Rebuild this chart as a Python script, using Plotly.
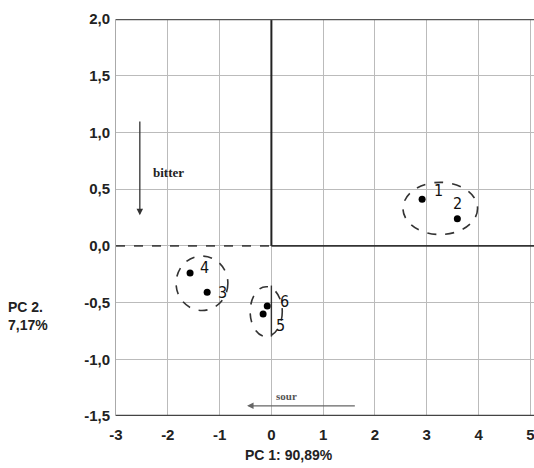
import plotly.graph_objects as go

# PCA scores of six samples
sample_ids = ["1", "2", "3", "4", "5", "6"]
pc1_scores = [2.91, 3.59, -1.24, -1.57, -0.16, -0.08]
pc2_scores = [0.41, 0.24, -0.41, -0.24, -0.60, -0.53]

# label positions (data units) next to each point
label_x = [3.22, 3.59, -0.95, -1.30, 0.17, 0.25]
label_y = [0.49, 0.37, -0.41, -0.19, -0.70, -0.49]

# dashed group ellipses: centre x, centre y, half width, half height
groups = [
    (3.26, 0.33, 0.72, 0.23),
    (-1.34, -0.33, 0.50, 0.24),
    (-0.10, -0.58, 0.31, 0.22),
]

x_ticks = [-3, -2, -1, 0, 1, 2, 3, 4, 5]
x_tick_labels = ["-3", "-2", "-1", "0", "1", "2", "3", "4", "5"]
y_ticks = [2.0, 1.5, 1.0, 0.5, 0.0, -0.5, -1.0, -1.5]
y_tick_labels = ["2,0", "1,5", "1,0", "0,5", "0,0", "-0,5", "-1,0", "-1,5"]

fig = go.Figure()

fig.add_trace(go.Scatter(
    x=pc1_scores, y=pc2_scores, mode="markers",
    marker=dict(color="black", size=7), showlegend=False, hoverinfo="skip"))

shapes = []
for cx, cy, rx, ry in groups:
    shapes.append(dict(type="circle", xref="x", yref="y",
                       x0=cx - rx, x1=cx + rx, y0=cy - ry, y1=cy + ry,
                       line=dict(color="#333", width=1.6, dash="dash")))

# origin lines: dashed left half, solid right half, vertical above zero
shapes.append(dict(type="line", xref="x", yref="y", x0=-3, x1=0, y0=0, y1=0,
                   line=dict(color="#444", width=1.6, dash="dash")))
shapes.append(dict(type="line", xref="x", yref="y", x0=0, x1=5.1, y0=0, y1=0,
                   line=dict(color="#333", width=1.6)))
shapes.append(dict(type="line", xref="x", yref="y", x0=0, x1=0, y0=0, y1=2,
                   line=dict(color="#222", width=2)))
shapes.append(dict(type="line", xref="x", yref="y", x0=0, x1=0, y0=-0.35, y1=-0.8,
                   line=dict(color="#333", width=1.4)))
# frame top and bottom
shapes.append(dict(type="line", xref="paper", yref="y", x0=0, x1=1, y0=2, y1=2,
                   line=dict(color="#555", width=2.5)))
shapes.append(dict(type="line", xref="paper", yref="y", x0=0, x1=1, y0=-1.5, y1=-1.5,
                   line=dict(color="#444", width=2.5)))

annotations = []
for sid, lx, ly in zip(sample_ids, label_x, label_y):
    annotations.append(dict(x=lx, y=ly, xref="x", yref="y", text=sid,
                            showarrow=False,
                            font=dict(family="DejaVu Sans Condensed", size=16, color="#111")))

# descriptor arrows
annotations.append(dict(x=-2.54, y=0.27, ax=-2.54, ay=1.11, xref="x", yref="y",
                        axref="x", ayref="y", showarrow=True, arrowhead=2,
                        arrowsize=1, arrowwidth=1.3, arrowcolor="#333", text=""))
annotations.append(dict(x=-1.98, y=0.65, xref="x", yref="y", text="<b>bitter</b>",
                        showarrow=False,
                        font=dict(family="Liberation Serif", size=13, color="#222")))
annotations.append(dict(x=-0.47, y=-1.41, ax=1.64, ay=-1.41, xref="x", yref="y",
                        axref="x", ayref="y", showarrow=True, arrowhead=2,
                        arrowsize=1, arrowwidth=1.3, arrowcolor="#666", text=""))
annotations.append(dict(x=0.30, y=-1.32, xref="x", yref="y", text="<b>sour</b>",
                        showarrow=False,
                        font=dict(family="Liberation Serif", size=11, color="#555")))

# y-axis title placed left of the tick labels
annotations.append(dict(x=-0.262, y=0.205, xref="paper", yref="paper", xanchor="left",
                        text="<b>PC 2.<br>7,17%</b>", showarrow=False, align="left",
                        font=dict(family="Liberation Sans", size=14, color="#222")))
# x-axis title
annotations.append(dict(x=0.415, y=-0.098, xref="paper", yref="paper", yanchor="middle",
                        text="<b>PC 1: 90,89%</b>", showarrow=False,
                        font=dict(family="Liberation Sans", size=14, color="#222")))

tick_font = dict(family="Liberation Sans", size=15, color="#222", weight="bold")

fig.update_layout(
    width=534, height=468,
    margin=dict(l=116, r=0, t=19, b=52),
    paper_bgcolor="white", plot_bgcolor="white",
    shapes=shapes, annotations=annotations,
    xaxis=dict(range=[-3, 5.07], tickvals=x_ticks, ticktext=x_tick_labels,
               showgrid=True, gridcolor="#bbbbbb", gridwidth=1,
               zeroline=False, showline=False, ticks="",
               ticklabeloverflow="allow",
               ticklabelstandoff=8, tickfont=tick_font),
    yaxis=dict(range=[-1.5, 2.0], tickvals=y_ticks, ticktext=y_tick_labels,
               showgrid=True, gridcolor="#bbbbbb", gridwidth=1,
               zeroline=False, showline=True, linecolor="#aaa", linewidth=1,
               ticks="", ticklabelstandoff=2, tickfont=tick_font),
)

fig.write_html("out.html")
